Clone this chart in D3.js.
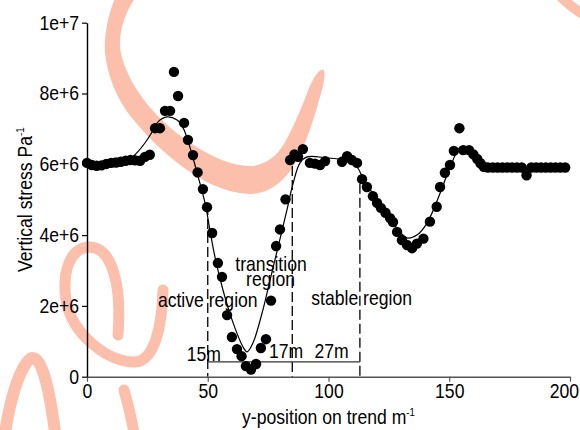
<!DOCTYPE html>
<html>
<head>
<meta charset="utf-8">
<script src="https://cdn.jsdelivr.net/npm/d3@7"></script>
<style>
  body { margin: 0; background: #fff; }
  svg { display: block; }
  text { font-family: "Liberation Sans", Arial, sans-serif; fill: #000; }
</style>
</head>
<body>
<svg id="chart" width="580" height="430"></svg>
<script>
// Measured vertical stress along the trend (position in m, stress in Pa)
const positions = [0,2,4,6,8,10,12,14,16,18,20,22,24,26,28.2,30.2,32.3,34.4,36,37.7,40.2,41.8,43.9,45.8,48,49.7,51.8,54.2,55.9,58,60,62.1,64,65.8,67.9,70,72,74.1,76.2,78.3,79.9,82.2,84.1,85.9,87.4,89.4,92.3,94.4,96.5,98.6,105.6,107.7,109.7,111.8,113.9,115.9,118.4,120.1,121.7,123.6,125.5,126.7,128.4,130.4,132.5,134.6,136.6,139.3,142,144.8,146.2,148.2,150.3,151.9,154.2,155.8,158.2,160,161.6,162.9,164.3,166,168,170,172,174,176,178,180,182,184,186,188,190,192,194,196,198];
const stress = [6.04e6,5.98e6,5.96e6,5.97e6,6.01e6,6.04e6,6.05e6,6.07e6,6.10e6,6.12e6,6.11e6,6.10e6,6.21e6,6.27e6,7.02e6,7.02e6,7.51e6,7.51e6,8.61e6,7.93e6,7.17e6,6.69e6,6.26e6,5.77e6,5.30e6,4.79e6,4.06e6,3.21e6,2.82e6,1.74e6,1.12e6,0.78e6,0.58e6,0.30e6,0.20e6,0.36e6,0.81e6,1.06e6,2.15e6,3.69e6,4.16e6,5.01e6,6.12e6,6.28e6,6.21e6,6.43e6,6.04e6,6.02e6,5.98e6,6.09e6,6.07e6,6.23e6,6.12e6,6.04e6,5.58e6,5.36e6,5.10e6,4.91e6,4.77e6,4.63e6,4.48e6,4.37e6,4.09e6,3.86e6,3.72e6,3.63e6,3.76e6,3.90e6,4.38e6,4.80e6,5.36e6,5.76e6,5.98e6,6.38e6,7.02e6,6.40e6,6.40e6,6.28e6,6.15e6,6.03e6,5.93e6,5.91e6,5.91e6,5.91e6,5.91e6,5.91e6,5.91e6,5.91e6,5.91e6,5.69e6,5.91e6,5.91e6,5.91e6,5.91e6,5.91e6,5.91e6,5.91e6,5.91e6];

// Smoothed trend through the measurements
const fitPos = [0,10,17,20.3,24.8,26.9,29.4,33.1,37.3,39.8,42.6,45.5,48.9,50.9,53,56.3,60.5,64.6,66.3,68.7,72.5,75.8,79.1,82.8,85.3,88.2,91.1,99.4,106,111.8,114.3,120.1,126.7,132.5,136.6,140.8,146.2,150.3,154.5,156.5,158.6,162,164,200];
const fitStress = [6.02e6,6.05e6,6.12e6,6.3e6,6.68e6,6.91e6,7.2e6,7.34e6,7.25e6,7.03e6,6.49e6,5.78e6,4.9e6,4.14e6,3.38e6,2.45e6,1.52e6,0.84e6,0.70e6,0.95e6,1.8e6,2.73e6,3.66e6,4.71e6,5.45e6,6.04e6,6.21e6,6.18e6,6.12e6,5.92e6,5.61e6,4.99e6,4.34e6,3.92e6,4.0e6,4.34e6,5.18e6,5.92e6,6.48e6,6.5e6,6.4e6,6.1e6,5.92e6,5.92e6];

// Axis ticks
const xTicks = [0,50,100,150,200];
const yTicks = [0,2e6,4e6,6e6,8e6,1e7];
const yTickLabels = ["0","2e+6","4e+6","6e+6","8e+6","1e+7"];

// Region boundaries and annotations
const boundaryPos = [50,85,113];
const boundaryTop = [4.85e6,5.95e6,5.45e6];
const spanLevel = 0.42e6;
const regionLabels = ["active region","transition","region","stable region","15m","17m","27m"];
const regionLabelPos = [50,76.2,76,113.7,48.4,82.4,101.3];
const regionLabelLevel = [1.97e6,2.99e6,2.56e6,2.03e6,0.44e6,0.53e6,0.53e6];

const svg = d3.select("#chart");
const x = d3.scaleLinear().domain([0,200]).range([87,570]);
const y = d3.scaleLinear().domain([0,1e7]).range([376.7,22.7]);
const SX = 0.88;

// decorative script strokes in the background
const deco = svg.append("g").attr("fill","#fcbfab").attr("stroke","none");
deco.append("path").attr("d",
  "M115,-2 C108,15 104,35 105,52 C107,75 117,100 132,118 C150,140 175,165 205,181 C222,190 238,194 252,194 C272,193 288,178 298,158 C306,142 312,125 318,104 C322,90 326,78 324,70 C318,68 312,80 306,96 C300,112 292,130 284,144 C276,157 264,166 250,166 C232,166 212,157 192,144 C168,128 150,110 137,90 C126,72 119,55 120,40 C121,25 127,10 135,-2 Z");
const decoStroke = svg.append("g").attr("fill","none").attr("stroke","#fcbfab").attr("stroke-linecap","round");
decoStroke.append("path").attr("stroke-width",11)
  .attr("d","M118,335 C122,285 112,248 90,247 C70,247 62,272 66,300 C72,335 108,362 135,362 C155,361 162,325 163,290");
decoStroke.append("path").attr("stroke-width",12)
  .attr("d","M4,440 C10,395 22,362 32,358 C42,356 50,390 56,440");
decoStroke.append("path").attr("stroke-width",11)
  .attr("d","M124,390 C128,405 132,418 135,440");
decoStroke.append("path").attr("stroke-width",10)
  .attr("d","M560,-4 C570,6 580,14 592,18");

// fitted curve
const line = d3.line().x((d,i)=>x(fitPos[i])).y((d,i)=>y(fitStress[i])).curve(d3.curveCatmullRom.alpha(0.5));
svg.append("path").datum(fitPos).attr("d", line)
  .attr("fill","none").attr("stroke","#000").attr("stroke-width",1.2);

// region boundaries
svg.append("g").selectAll("line").data(boundaryPos).join("line")
  .attr("x1",d=>x(d)).attr("x2",d=>x(d))
  .attr("y1",(d,i)=>y(boundaryTop[i])).attr("y2",y(0))
  .attr("stroke","#000").attr("stroke-width",1.3).attr("stroke-dasharray","10,4");
svg.append("line")
  .attr("x1",x(boundaryPos[0])).attr("x2",x(boundaryPos[2]))
  .attr("y1",y(spanLevel)).attr("y2",y(spanLevel))
  .attr("stroke","#333").attr("stroke-width",1.2);

// measurement points
svg.append("g").selectAll("circle").data(positions).join("circle")
  .attr("cx",d=>x(d)).attr("cy",(d,i)=>y(stress[i])).attr("r",5.2).attr("fill","#000");

// annotations
svg.append("g").selectAll("text").data(regionLabels).join("text")
  .attr("text-anchor","middle").style("font-size","20px")
  .attr("transform",(d,i)=>`translate(${x(regionLabelPos[i])},${y(regionLabelLevel[i])}) scale(${SX},1)`)
  .text(d=>d);

// axes
const xAxis = svg.append("g").attr("transform",`translate(0,${y(0)})`)
  .call(d3.axisBottom(x).tickValues(xTicks).tickSize(5).tickSizeOuter(0).tickPadding(2));
xAxis.select(".domain").attr("stroke","#555").attr("stroke-width",1.4);
xAxis.selectAll(".tick line").attr("stroke","#555").attr("stroke-width",1.2);
xAxis.selectAll(".tick text").style("font-size","20px").style("font-family",'"Liberation Sans", Arial, sans-serif')
  .attr("fill","#000").attr("transform",`scale(${SX},1)`)
  .attr("x",d=>d===200 ? -7 : 0);

const yAxis = svg.append("g").attr("transform",`translate(${x(0)},0)`)
  .call(d3.axisLeft(y).tickValues(yTicks).tickFormat(d=>yTickLabels[yTicks.indexOf(d)]).tickSize(5).tickSizeOuter(0).tickPadding(4));
yAxis.select(".domain").attr("stroke","#000").attr("stroke-width",1.4);
yAxis.selectAll(".tick line").attr("stroke","#000").attr("stroke-width",1.2);
yAxis.selectAll(".tick text").style("font-size","20px").style("font-family",'"Liberation Sans", Arial, sans-serif')
  .attr("fill","#000").attr("transform",`scale(${SX},1)`);

// axis titles
const xt = svg.append("text").attr("text-anchor","middle").style("font-size","20px")
  .attr("transform",`translate(${x(100)},424) scale(${SX},1)`);
xt.append("tspan").text("y-position on trend m");
xt.append("tspan").attr("dy",-8).style("font-size","11px").text("-1");

const yt = svg.append("text").attr("text-anchor","middle").style("font-size","20px")
  .attr("transform",`translate(32,${y(5e6)}) rotate(-90) scale(${SX},1)`);
yt.append("tspan").text("Vertical stress Pa");
yt.append("tspan").attr("dy",-8).style("font-size","11px").text("-1");
</script>
</body>
</html>
